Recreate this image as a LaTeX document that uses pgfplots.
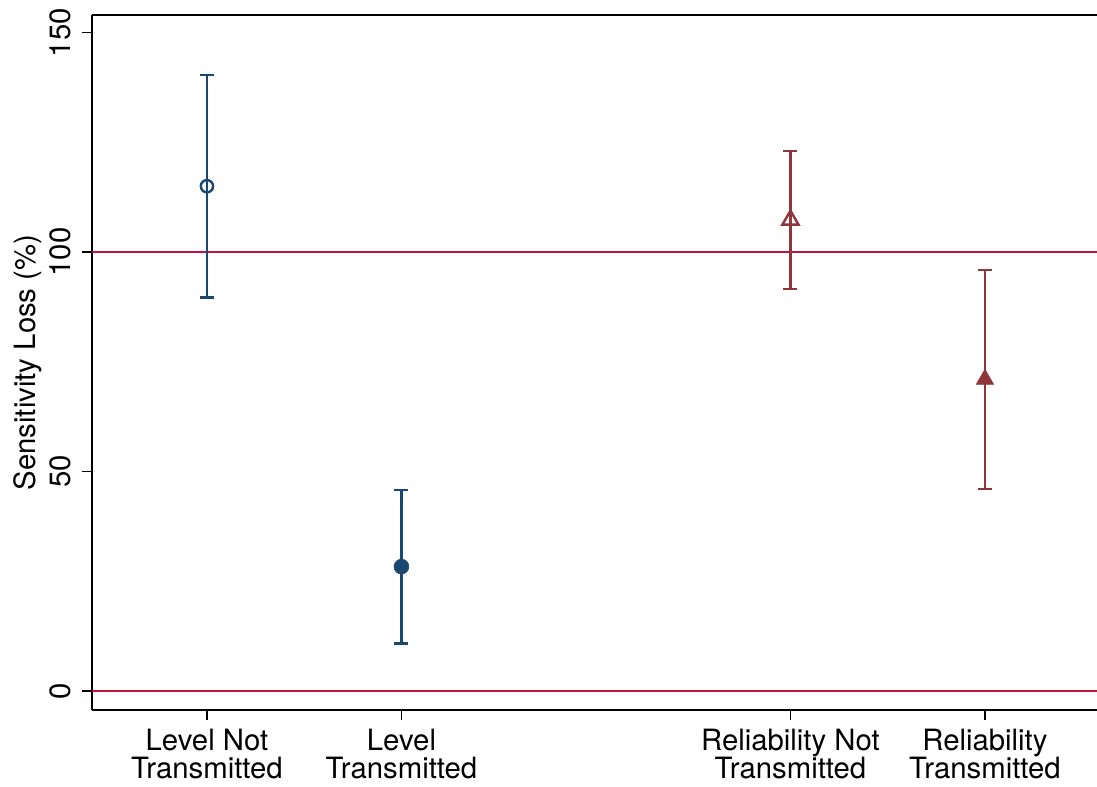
\documentclass[border=0pt]{standalone}
\usepackage{fontspec}
\setmainfont{TeX Gyre Heros}
\usepackage{pgfplots}
\pgfplotsset{compat=1.18}
\definecolor{navy}{RGB}{26,71,111}
\definecolor{maroonc}{RGB}{144,53,59}
\definecolor{crim}{RGB}{200,16,60}
\newcommand{\lblfont}{\fontsize{22}{21.5}\selectfont}
\begin{document}
\begin{tikzpicture}
\begin{axis}[
  scale only axis, width=753.75pt, height=521.25pt,
  xmin=0.409, xmax=5.576, ymin=-4.3, ymax=154,
  axis lines=left, axis line style={-, line width=1.6pt, black},
  xtick={1,2,4,5},
  xticklabels={{Level Not\\Transmitted},{Level\\Transmitted},{Reliability Not\\Transmitted},{Reliability\\Transmitted}},
  xticklabel style={align=center, font=\lblfont, yshift=-3pt},
  ytick={0,50,100,150},
  yticklabel style={rotate=90, anchor=south, font=\lblfont, yshift=5pt},
  tick align=outside, major tick length=7.5pt, tick style={line width=1.3pt, black},
  ylabel={Sensitivity Loss (\%)},
  ylabel style={font=\lblfont, at={(axis description cs:0,0.5)}, anchor=center, yshift=48pt},
  /pgf/number format/assume math mode=true,
  clip=false,
]
\coordinate (sw) at (rel axis cs:0,0);
\draw[line width=1.6pt, black] (rel axis cs:0,1) -- (rel axis cs:1,1);
\addplot[crim, line width=1.8pt, mark=none] coordinates {(0.409,0) (5.576,0)};
\addplot[crim, line width=1.8pt, mark=none] coordinates {(0.409,100) (5.576,100)};
% Level Not Transmitted
\addplot[navy, only marks, mark=o, mark size=4.6pt, mark options={line width=1.8pt},
  error bars/.cd, y dir=both, y explicit,
  error bar style={line width=2pt, navy},
  error mark options={rotate=90, line width=2pt, mark size=5.25pt, navy}]
  coordinates {(1,115) +- (0,25.3)};
% Level Transmitted
\addplot[navy, only marks, mark=*, mark size=5.6pt, mark options={line width=0.4pt, fill=navy},
  error bars/.cd, y dir=both, y explicit,
  error bar style={line width=2pt, navy},
  error mark options={rotate=90, line width=2pt, mark size=5.25pt, navy}]
  coordinates {(2,28.35) +- (0,17.45)};
% Reliability Not Transmitted
\addplot[maroonc, only marks, mark=triangle, mark size=7pt, mark options={line width=1.8pt},
  error bars/.cd, y dir=both, y explicit,
  error bar style={line width=2pt, maroonc},
  error mark options={rotate=90, line width=2pt, mark size=5.25pt, maroonc}]
  coordinates {(4,107.3) +- (0,15.7)};
% Reliability Transmitted
\addplot[maroonc, only marks, mark=triangle*, mark size=7.6pt, mark options={line width=0.4pt, fill=maroonc},
  error bars/.cd, y dir=both, y explicit,
  error bar style={line width=2pt, maroonc},
  error mark options={rotate=90, line width=2pt, mark size=5.25pt, maroonc}]
  coordinates {(5,71.0) +- (0,24.95)};
\end{axis}
\pgfresetboundingbox
\path[use as bounding box] (sw) ++(-69pt,-57.75pt) rectangle ++(822.75pt,590.25pt);
\end{tikzpicture}
\end{document}
